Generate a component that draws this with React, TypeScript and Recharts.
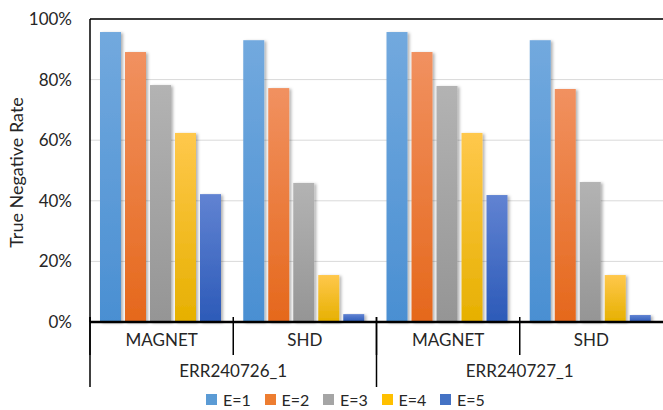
import React from "react";
import { BarChart, Bar, XAxis, YAxis, CartesianGrid, Legend, ReferenceLine } from "recharts";

const methods = ["MAGNET", "SHD", "MAGNET", "SHD"];
const runs = ["ERR240726_1", "ERR240726_1", "ERR240727_1", "ERR240727_1"];
const e1 = [0.957, 0.93, 0.957, 0.93];
const e2 = [0.891, 0.772, 0.891, 0.769];
const e3 = [0.782, 0.459, 0.779, 0.462];
const e4 = [0.624, 0.155, 0.624, 0.155];
const e5 = [0.422, 0.026, 0.419, 0.023];
const yTicks = [0, 0.2, 0.4, 0.6, 0.8, 1];

const SERIES = [
  { key: "e1", name: "E=1", top: "#72a9de", bottom: "#4a8fd2", solid: "#5b9bd5" },
  { key: "e2", name: "E=2", top: "#f19160", bottom: "#e5681c", solid: "#ed7d31" },
  { key: "e3", name: "E=3", top: "#b3b3b3", bottom: "#959595", solid: "#a5a5a5" },
  { key: "e4", name: "E=4", top: "#ffc84c", bottom: "#e6b000", solid: "#ffc000" },
  { key: "e5", name: "E=5", top: "#6183d2", bottom: "#2c5ab8", solid: "#4472c4" },
];

const data = methods.map((method, i) => ({
  method,
  run: runs[i],
  e1: e1[i],
  e2: e2[i],
  e3: e3[i],
  e4: e4[i],
  e5: e5[i],
}));

const W = 663;
const H = 410;
const LEFT = 90;
const BAND = (W - LEFT) / methods.length;
const FONT = "Lato, 'Open Sans', sans-serif";
const TEXT = "#262626";
const FS = 17;

const MethodTick = ({ x, y, payload }: any) => {
  const left = x - BAND / 2;
  return (
    <g>
      <line x1={left} x2={left} y1={y - 5} y2={y + 33} stroke="#000" strokeWidth={1.5} />
      <text x={x} y={y + 20} textAnchor="middle" dominantBaseline="middle" fontSize={FS} fill={TEXT} fontFamily={FONT}>
        {payload.value}
      </text>
    </g>
  );
};

const RunTick = ({ x, y, payload, index }: any) => {
  if (index % 2 !== 0) return <g />;
  const left = x - BAND / 2;
  return (
    <g>
      <line x1={left} x2={left} y1={y - 41} y2={y + 29} stroke="#000" strokeWidth={1.5} />
      <text x={x + BAND / 2} y={y + 15} textAnchor="middle" dominantBaseline="middle" fontSize={FS} fill={TEXT} fontFamily={FONT}>
        {payload.value}
      </text>
    </g>
  );
};

const ShadowBar = (props: any) => {
  const { x, y, width, height, fill } = props;
  if (!height || height <= 0) return <g />;
  return <rect x={x} y={y} width={width} height={height} fill={fill} filter="url(#barShadow)" />;
};

const LegendContent = () => (
  <div style={{ height: 22, display: "flex", alignItems: "center", paddingLeft: 206, fontFamily: FONT, fontSize: 16, color: TEXT }}>
    {SERIES.map((s) => (
      <div key={s.key} style={{ display: "flex", alignItems: "center", width: 58.5 }}>
        <span style={{ display: "inline-block", width: 11, height: 11, background: s.solid, marginRight: 6 }} />
        <span>{s.name}</span>
      </div>
    ))}
  </div>
);

export default function App() {
  return (
    <div style={{ position: "absolute", left: 0, top: 0, width: W, height: H, background: "#fff" }}>
      <BarChart
        width={W}
        height={H}
        data={data}
        margin={{ top: 19, right: 0, bottom: 0, left: 0 }}
        barCategoryGap={10}
        barGap={4}
      >
        <defs>
          {SERIES.map((s) => (
            <linearGradient key={s.key} id={`grad-${s.key}`} x1="0" y1="0" x2="0" y2="1">
              <stop offset="0%" stopColor={s.top} />
              <stop offset="100%" stopColor={s.bottom} />
            </linearGradient>
          ))}
          <filter id="barShadow" x="-20%" y="-5%" width="150%" height="110%">
            <feDropShadow dx={2} dy={1} stdDeviation={1.5} floodColor="#000" floodOpacity={0.3} />
          </filter>
        </defs>
        <CartesianGrid vertical={false} stroke="#d9d9d9" />
        <YAxis
          width={LEFT}
          domain={[0, 1]}
          ticks={yTicks}
          tickFormatter={(v: number) => `${Math.round(v * 100)}%`}
          tickLine={false}
          tickMargin={12}
          axisLine={{ stroke: "#000", strokeWidth: 1.5 }}
          tick={{ fontSize: FS, fill: TEXT, fontFamily: FONT }}
          label={(props: any) => {
            const vb = props.viewBox;
            const cx = 18;
            const cy = vb.y + vb.height / 2 + 2;
            return (
              <text x={cx} y={cy} transform={`rotate(-90 ${cx} ${cy})`} textAnchor="middle" dominantBaseline="middle" fontSize={18} fill={TEXT} fontFamily={FONT}>
                True Negative Rate
              </text>
            );
          }}
        />
        <XAxis
          dataKey="method"
          height={36}
          interval={0}
          tickLine={false}
          tickSize={0}
          tickMargin={0}
          axisLine={{ stroke: "#000", strokeWidth: 2.5 }}
          tick={<MethodTick />}
        />
        <XAxis
          xAxisId="run"
          dataKey="run"
          height={30}
          interval={0}
          tickLine={false}
          tickSize={0}
          tickMargin={0}
          axisLine={false}
          tick={<RunTick />}
        />
        <ReferenceLine y={1} stroke="#000" strokeWidth={1.5} />
        {SERIES.map((s) => (
          <Bar
            key={s.key}
            dataKey={s.key}
            name={s.name}
            fill={`url(#grad-${s.key})`}
            shape={<ShadowBar />}
            isAnimationActive={false}
          />
        ))}
        <Legend verticalAlign="bottom" content={<LegendContent />} />
      </BarChart>
    </div>
  );
}
